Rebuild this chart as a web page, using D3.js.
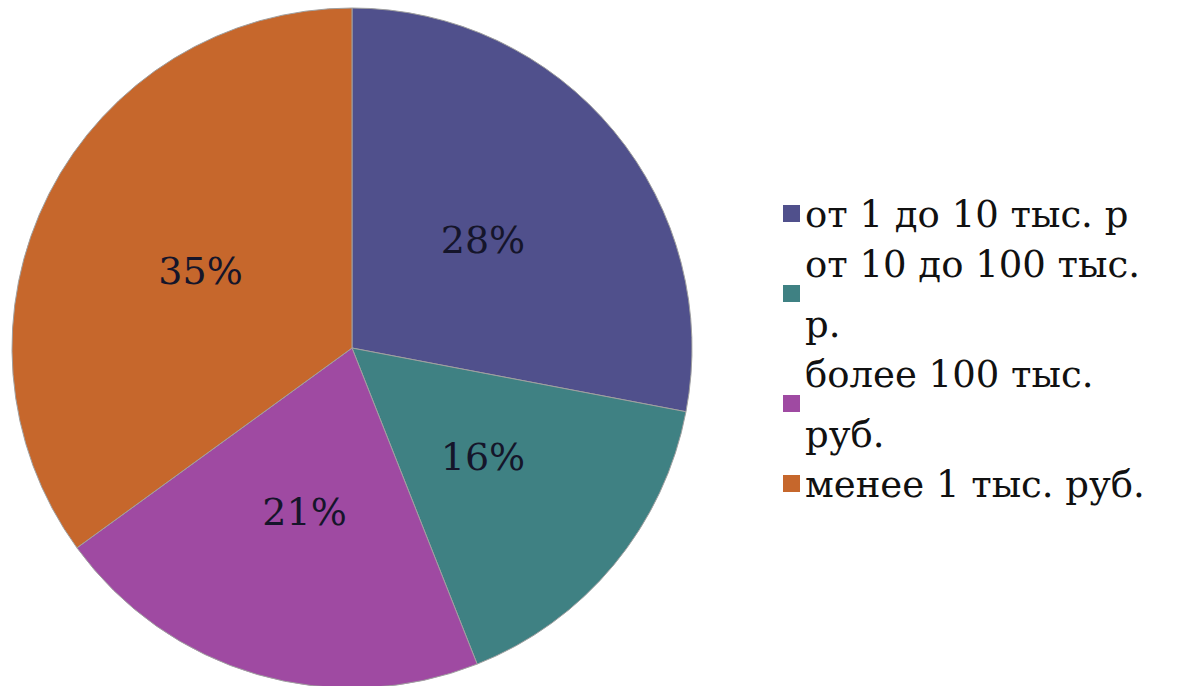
<!DOCTYPE html>
<html>
<head>
<meta charset="utf-8">
<script src="https://cdn.jsdelivr.net/npm/d3@7"></script>
<style>
  body { margin: 0; background: #fff; }
  text { font-family: "DejaVu Serif", Georgia, serif; }
</style>
</head>
<body>
<div id="chart"></div>
<script>
// data
var categories = ["от 1 до 10 тыс. р", "от 10 до 100 тыс. р.", "более 100 тыс. руб.", "менее 1 тыс. руб."]
var values = [28, 16, 21, 35]
var colors = ["#50508c", "#3f8183", "#9f4aa2", "#c6672c"]
// wrapped legend lines, as in the picture
var legendLines = [["от 1 до 10 тыс. р"], ["от 10 до 100 тыс.", "р."], ["более 100 тыс.", "руб."], ["менее 1 тыс. руб."]]

var width = 1183
var height = 686
var cx = 352, cy = 348, radius = 340

var svg = d3.select("#chart").append("svg")
    .attr("width", width)
    .attr("height", height)

var pie = d3.pie().sort(null).value(function(d) { return d })
var arc = d3.arc().innerRadius(0).outerRadius(radius)
var labelArc = d3.arc().innerRadius(170).outerRadius(170)

var g = svg.append("g").attr("transform", "translate(" + cx + "," + cy + ")")

var arcs = pie(values)

g.selectAll("path")
    .data(arcs)
    .enter().append("path")
    .attr("d", arc)
    .attr("fill", function(d, i) { return colors[i] })
    .attr("stroke", "#a0a0a0")
    .attr("stroke-width", 1)

g.selectAll("text.lbl")
    .data(arcs)
    .enter().append("text")
    .attr("class", "lbl")
    .attr("transform", function(d) { return "translate(" + labelArc.centroid(d) + ")" })
    .attr("text-anchor", "middle")
    .attr("dy", "0.35em")
    .style("font-size", "38px")
    .attr("fill", "#15152a")
    .text(function(d) { return d.value + "%" })

// legend
var legend = svg.append("g")
var lineH = 60, itemGap = 50
var y = 227
legendLines.forEach(function(lines, i) {
  var first = y
  lines.forEach(function(line, j) {
    legend.append("text")
      .attr("x", 805)
      .attr("y", y)
      .style("font-size", "37px")
      .attr("fill", "#111")
      .text(line)
    if (j < lines.length - 1) y += lineH
  })
  var mid = (first + y) / 2
  legend.append("rect")
    .attr("x", 783)
    .attr("y", mid - 22)
    .attr("width", 17)
    .attr("height", 17)
    .attr("fill", colors[i])
  y += itemGap
})
</script>
</body>
</html>
